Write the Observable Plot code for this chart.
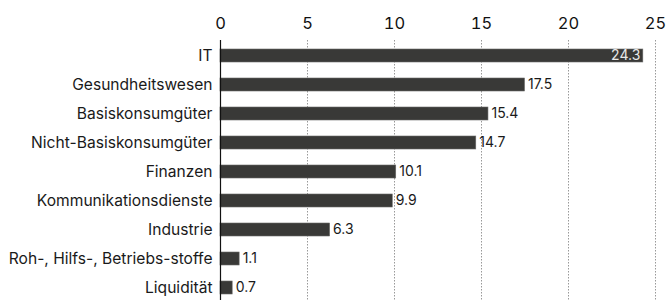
<!DOCTYPE html>
<html>
<head>
<meta charset="utf-8">
<script src="https://cdn.jsdelivr.net/npm/d3@7"></script>
<script src="https://cdn.jsdelivr.net/npm/@observablehq/plot@0.6"></script>
<style>
  html, body { margin: 0; padding: 0; background: #fff; overflow: hidden; }
  #chart svg { font-family: Inter, "Liberation Sans", Arial, sans-serif; }
</style>
</head>
<body>
<div id="chart"></div>
<script>
const sectors = ["IT", "Gesundheitswesen", "Basiskonsumgüter", "Nicht-Basiskonsumgüter", "Finanzen", "Kommunikationsdienste", "Industrie", "Roh-, Hilfs-, Betriebs-stoffe", "Liquidität"];
const weights = [24.3, 17.5, 15.4, 14.7, 10.1, 9.9, 6.3, 1.1, 0.7];
const xTicks = [0, 5, 10, 15, 20, 25];

const data = sectors.map((s, i) => ({sector: s, value: weights[i]}));
const inside = data.filter(d => d.value > 20);
const outside = data.filter(d => d.value <= 20);

const chart = Plot.plot({
  width: 666,
  height: 304,
  marginTop: 40,
  marginBottom: 0,
  marginLeft: 220,
  marginRight: 11,
  style: {fontFamily: "Inter, Liberation Sans, Arial, sans-serif", background: "#fff"},
  x: {domain: [0, 25], ticks: xTicks},
  y: {domain: sectors, paddingInner: 0.54, paddingOuter: 0.25},
  marks: [
    Plot.ruleX(xTicks.filter(t => t > 0), {stroke: "#999", strokeDasharray: "1.5,1.5", strokeWidth: 1}),
    Plot.axisX({anchor: "top", ticks: xTicks, tickSize: 0, tickPadding: 12, fontSize: 16.5, fill: "#111", label: null}),
    Plot.axisY({tickSize: 0, tickPadding: 8, fontSize: 15.6, fill: "#1a1a1a", label: null}),
    Plot.barX(data, {x: "value", y: "sector", fill: "#393937", stroke: "#6a6a68", strokeWidth: 0.6}),
    Plot.ruleX([0], {stroke: "#111", strokeWidth: 1.2}),
    Plot.text(outside, {x: "value", y: "sector", text: d => d.value.toFixed(1), textAnchor: "start", dx: 3, fontSize: 14, fill: "#1a1a1a"}),
    Plot.text(inside, {x: "value", y: "sector", text: d => d.value.toFixed(1), textAnchor: "end", dx: -3, fontSize: 14, fill: "#e8e8e8"})
  ]
});
document.getElementById("chart").appendChild(chart);
</script>
</body>
</html>
